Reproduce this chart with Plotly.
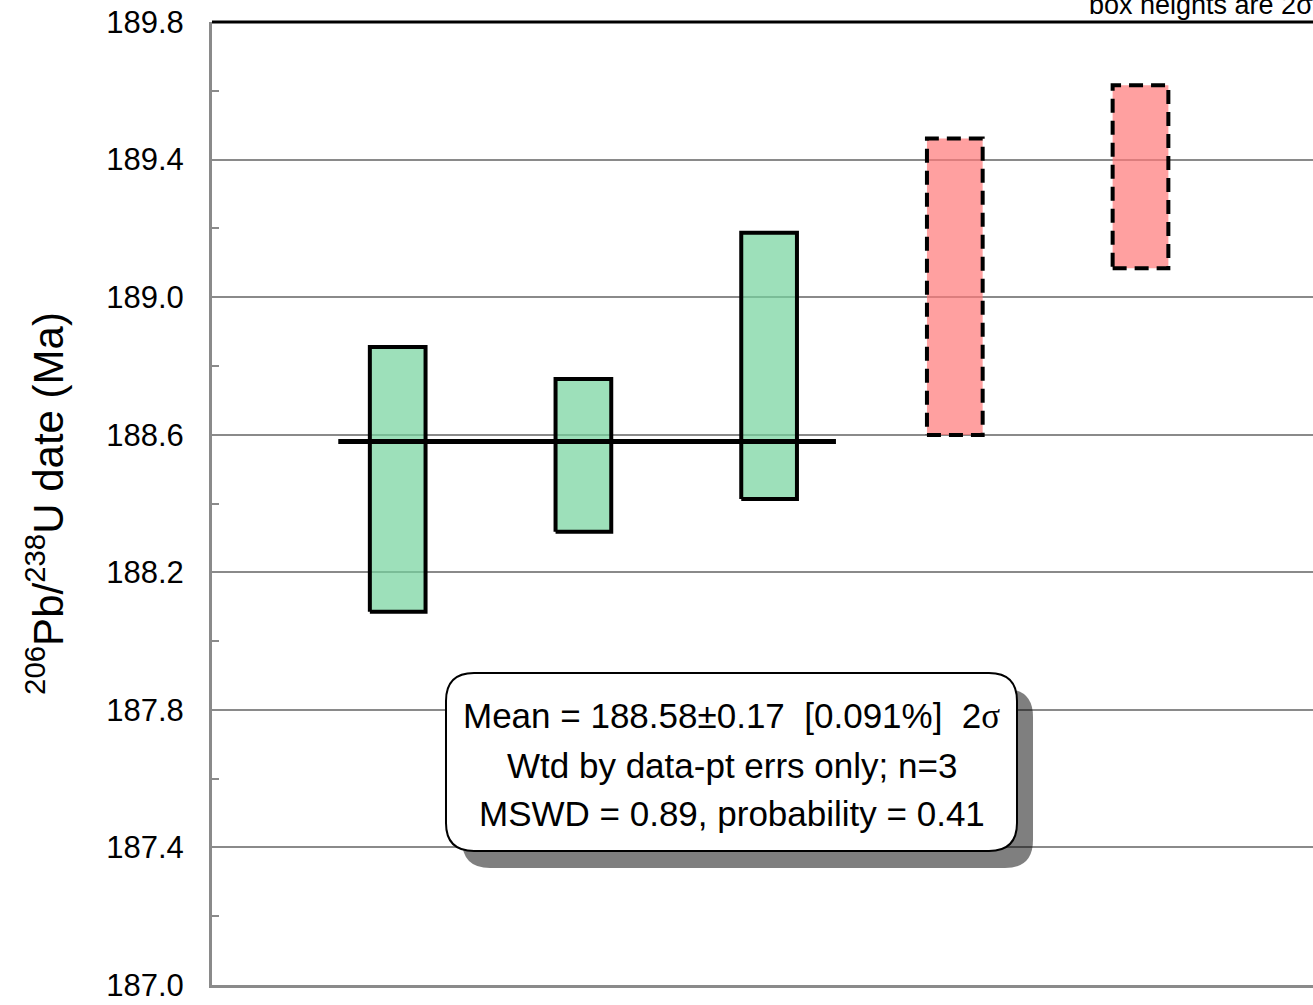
import plotly.graph_objects as go

# 206Pb/238U dates (Ma) and 2-sigma errors for each analysis
analysis_pos = [1, 2, 3, 4, 5]
dates_ma = [188.47, 188.54, 188.80, 189.03, 189.35]
err_2s = [0.385, 0.222, 0.387, 0.431, 0.266]
used_in_mean = [True, True, True, False, False]

# Weighted-mean result
mean_age = 188.58
mean_span = [0.68, 3.36]
stats_lines = [
    "Mean = 188.58±0.17\u00a0\u00a0[0.091%]\u00a0\u00a02<span style=\"font-family:'Liberation Serif'\">σ</span>",
    "Wtd by data-pt errs only; n=3",
    "MSWD = 0.89, probability = 0.41",
]

# y-axis ticks
y_min, y_max, y_step = 187.0, 189.8, 0.4

FONT = "Arial, 'Liberation Sans', sans-serif"
GRID = "#8a8a8a"
W, H = 1313, 1005
ML, MR, MT, MB = 212, 0, 22, 20
PW, PH = W - ML - MR, H - MT - MB
BOX_HALF_W = 0.15

fig = go.Figure()

for x, d, e, ok in zip(analysis_pos, dates_ma, err_2s, used_in_mean):
    lo, hi = d - e, d + e
    fig.add_trace(go.Scatter(
        x=[x - BOX_HALF_W, x + BOX_HALF_W, x + BOX_HALF_W, x - BOX_HALF_W, x - BOX_HALF_W],
        y=[lo, lo, hi, hi, lo],
        mode="lines",
        fill="toself",
        fillcolor="rgba(116,211,156,0.70)" if ok else "rgba(255,119,119,0.70)",
        line=dict(color="black", width=4, dash="solid" if ok else "14px,8px"),
        showlegend=False,
        hoverinfo="skip",
    ))

# weighted mean line
fig.add_trace(go.Scatter(
    x=mean_span, y=[mean_age, mean_age], mode="lines",
    line=dict(color="black", width=5), showlegend=False, hoverinfo="skip",
))


def to_paper(px, py):
    return (px - ML) / PW, (MT + PH - py) / PH


def rounded_rect(x0, y0, x1, y1, r):
    pts = [
        ("M", [(x0 + r, y0)]),
        ("L", [(x1 - r, y0)]),
        ("Q", [(x1, y0), (x1, y0 + r)]),
        ("L", [(x1, y1 - r)]),
        ("Q", [(x1, y1), (x1 - r, y1)]),
        ("L", [(x0 + r, y1)]),
        ("Q", [(x0, y1), (x0, y1 - r)]),
        ("L", [(x0, y0 + r)]),
        ("Q", [(x0, y0), (x0 + r, y0)]),
    ]
    out = []
    for cmd, ps in pts:
        coords = " ".join("%.5f,%.5f" % to_paper(a, b) for a, b in ps)
        out.append(cmd + coords)
    return " ".join(out) + " Z"


shapes = [
    # drop shadow of the statistics box
    dict(type="path", xref="paper", yref="paper", layer="above",
         path=rounded_rect(462, 689, 1033, 868, 28),
         fillcolor="rgba(0,0,0,0.5)", line=dict(width=0)),
    # statistics box
    dict(type="path", xref="paper", yref="paper", layer="above",
         path=rounded_rect(446, 673, 1017, 851, 28),
         fillcolor="white", line=dict(color="black", width=2)),
    # top frame line
    dict(type="line", xref="paper", yref="paper", layer="above",
         x0=0, x1=1, y0=1, y1=1, line=dict(color="black", width=3)),
]

annotations = []
for i, (txt, cy) in enumerate(zip(stats_lines, [716, 765, 813])):
    ax, ay = to_paper(731.5, cy)
    annotations.append(dict(
        text=txt, xref="paper", yref="paper", x=ax, y=ay,
        xanchor="center", yanchor="middle", showarrow=False,
        font=dict(family=FONT, size=35, color="black"),
    ))

hx, hy = to_paper(1087, 5)
annotations.append(dict(
    text="box heights are 2σ", xref="paper", yref="paper", x=hx, y=hy,
    xanchor="left", yanchor="middle", showarrow=False,
    font=dict(family=FONT, size=27, color="black"),
))

fig.update_layout(
    width=W, height=H,
    margin=dict(l=ML, r=MR, t=MT, b=MB, pad=0),
    paper_bgcolor="white", plot_bgcolor="white",
    shapes=shapes, annotations=annotations,
    xaxis=dict(
        range=[0, PW / 185.7], showticklabels=False, showgrid=False,
        zeroline=False, showline=True, linecolor=GRID, linewidth=3, ticks="",
    ),
    yaxis=dict(
        range=[y_min, y_max], tick0=y_min, dtick=y_step, tickformat=".1f",
        showgrid=True, gridcolor=GRID, gridwidth=2,
        zeroline=False, showline=True, linecolor=GRID, linewidth=3,
        ticks="", ticklabelstandoff=19,
        tickfont=dict(family=FONT, size=31, color="black"),
        minor=dict(dtick=y_step / 2, ticks="inside", ticklen=7,
                   tickwidth=2, tickcolor=GRID, showgrid=False),
        title=dict(text="<sup>206</sup>Pb/<sup>238</sup>U date (Ma)",
                   font=dict(family=FONT, size=42, color="black"),
                   standoff=30),
    ),
)

fig.write_html("out.html")
